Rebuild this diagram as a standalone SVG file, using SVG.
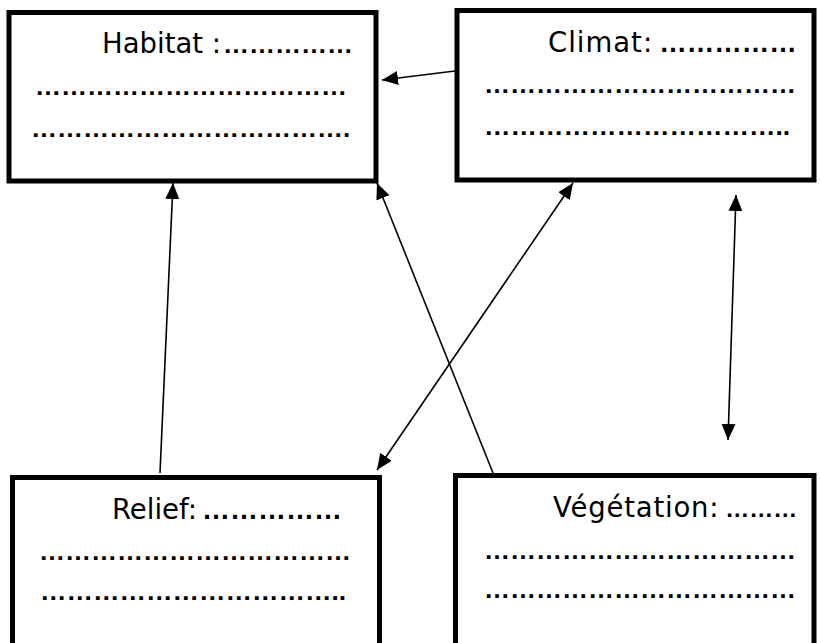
<svg xmlns="http://www.w3.org/2000/svg" width="820" height="643" viewBox="0 0 820 643">
<defs>
<style>
.box{fill:#fff;stroke:#000;stroke-width:5}
.t{font-family:"DejaVu Sans","Verdana",sans-serif;font-size:27.5px;fill:#000}
.d{font-family:"Liberation Sans","Arial",sans-serif;font-size:26px;font-weight:bold;letter-spacing:0;fill:#000}
.c{stroke:#000;stroke-width:1.6;fill:none}
</style>
<marker id="ah" markerWidth="17" markerHeight="14" refX="16" refY="7" orient="auto-start-reverse" markerUnits="userSpaceOnUse">
<path d="M0,0 L16,7 L0,14 Z" fill="#000"/>
</marker>
</defs>
<rect width="820" height="643" fill="#fff"/>
<g id="habitat">
<rect class="box" x="9" y="12.5" width="367" height="168.5"/>
<text class="t" x="102" y="53">Habitat :<tspan class="d" dx="2">&#8230;&#8230;&#8230;&#8230;&#8230;</tspan></text>
<text class="d" x="35" y="95">&#8230;&#8230;&#8230;&#8230;&#8230;&#8230;&#8230;&#8230;&#8230;&#8230;&#8230;&#8230;</text>
<text class="d" x="31" y="137">&#8230;&#8230;&#8230;&#8230;&#8230;&#8230;&#8230;&#8230;&#8230;&#8230;&#8230;&#8230;.</text>
</g>
<g id="climat">
<rect class="box" x="457" y="10.5" width="357" height="169.5"/>
<text class="t" x="548" y="52" style="letter-spacing:1px">Climat:<tspan class="d" dx="6" style="font-size:27.5px">&#8230;&#8230;&#8230;&#8230;&#8230;</tspan></text>
<text class="d" x="484" y="93">&#8230;&#8230;&#8230;&#8230;&#8230;&#8230;&#8230;&#8230;&#8230;&#8230;&#8230;&#8230;</text>
<text class="d" x="484" y="135" style="font-size:26.5px">&#8230;&#8230;&#8230;&#8230;&#8230;&#8230;&#8230;&#8230;&#8230;&#8230;&#8230;..</text>
</g>
<g id="relief">
<rect class="box" x="12.5" y="477.5" width="367" height="200"/>
<text class="t" x="112" y="519">Relief:<tspan class="d" dx="5" style="font-size:28px">&#8230;&#8230;&#8230;&#8230;&#8230;</tspan></text>
<text class="d" x="39" y="560">&#8230;&#8230;&#8230;&#8230;&#8230;&#8230;&#8230;&#8230;&#8230;&#8230;&#8230;&#8230;</text>
<text class="d" x="40" y="600" style="font-size:26.5px">&#8230;&#8230;&#8230;&#8230;&#8230;&#8230;&#8230;&#8230;&#8230;&#8230;&#8230;..</text>
</g>
<g id="vegetation">
<rect class="box" x="455.5" y="475.5" width="358.5" height="200"/>
<text class="t" x="553" y="517" style="letter-spacing:0.8px">Végétation:<tspan class="d" dx="6" style="font-size:24px">&#8230;&#8230;&#8230;</tspan></text>
<text class="d" x="484" y="559">&#8230;&#8230;&#8230;&#8230;&#8230;&#8230;&#8230;&#8230;&#8230;&#8230;&#8230;&#8230;</text>
<text class="d" x="484" y="598">&#8230;&#8230;&#8230;&#8230;&#8230;&#8230;&#8230;&#8230;&#8230;&#8230;&#8230;&#8230;</text>
</g>
<g id="connectors">
<line class="c" x1="455" y1="71" x2="382" y2="80" marker-end="url(#ah)"/>
<line class="c" x1="160" y1="473" x2="173" y2="183" marker-end="url(#ah)"/>
<line class="c" x1="493" y1="473" x2="377" y2="183" marker-end="url(#ah)"/>
<line class="c" x1="573" y1="183" x2="377" y2="470" marker-start="url(#ah)" marker-end="url(#ah)"/>
<line class="c" x1="736" y1="195" x2="728" y2="440" marker-start="url(#ah)" marker-end="url(#ah)"/>
</g>
</svg>
